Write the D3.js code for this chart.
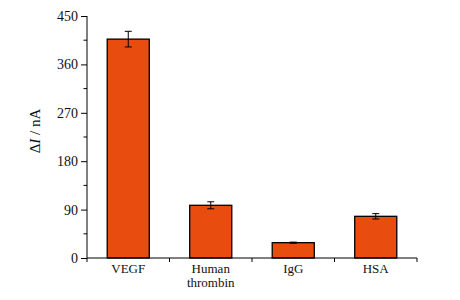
<html>
<head>
<script src="https://cdn.jsdelivr.net/npm/d3@7"></script>
<style>
  body { margin: 0; background: #fff; }
</style>
</head>
<body>
<svg id="chart" width="460" height="300"></svg>
<script>
  // data
  let categories = ["VEGF", "Human\nthrombin", "IgG", "HSA"]
  let values = [407, 98, 28.5, 77.5]
  let errors = [14.5, 6.5, 1, 5]
  let yTicks = [0, 90, 180, 270, 360, 450]

  let serif = "'Liberation Serif', 'Times New Roman', 'DejaVu Serif', serif"
  let svg = d3.select("#chart")
  let mLeft = 87, mTop = 16, mRight = 417, mBottom = 258

  let x = d3.scaleBand()
    .domain(categories)
    .range([mLeft, mRight])
    .paddingInner(0.49)
    .paddingOuter(0.245)

  let y = d3.scaleLinear()
    .domain([0, 450])
    .range([mBottom, mTop])

  let rows = categories.map((c, i) => ({ name: c, v: values[i], e: errors[i] }))

  // bars
  svg.append("g").selectAll("rect")
    .data(rows)
    .enter()
    .append("rect")
    .attr("x", d => x(d.name))
    .attr("y", d => y(d.v))
    .attr("width", x.bandwidth())
    .attr("height", d => y(0) - y(d.v))
    .style("fill", "#e84c0e")
    .style("stroke", "#000")
    .style("stroke-width", 1.3)

  // error bars
  let eb = svg.append("g").selectAll("g")
    .data(rows)
    .enter()
    .append("g")
    .style("stroke", "#000")
    .style("stroke-width", 1)
  let cx = d => x(d.name) + x.bandwidth() / 2
  eb.append("line")
    .attr("x1", cx).attr("x2", cx)
    .attr("y1", d => y(d.v + d.e)).attr("y2", d => y(d.v - d.e))
  eb.append("line")
    .attr("x1", d => cx(d) - 3.5).attr("x2", d => cx(d) + 3.5)
    .attr("y1", d => y(d.v + d.e)).attr("y2", d => y(d.v + d.e))
  eb.append("line")
    .attr("x1", d => cx(d) - 3.5).attr("x2", d => cx(d) + 3.5)
    .attr("y1", d => y(d.v - d.e)).attr("y2", d => y(d.v - d.e))

  // y axis with minor ticks
  let yAxis = d3.axisLeft(y).tickValues(yTicks).tickSize(6).tickPadding(3)
  let gy = svg.append("g")
    .attr("transform", `translate(${mLeft},0)`)
    .call(yAxis)
    .attr("font-family", serif)
  gy.select(".domain").attr("d", `M0,${y(0)}V${y(450)}`)
  gy.append("g").selectAll("line")
    .data(d3.range(45, 450, 90))
    .enter()
    .append("line")
    .attr("x1", -3.5).attr("x2", 0)
    .attr("y1", d => y(d)).attr("y2", d => y(d))
    .style("stroke", "#000")

  // x axis: ticks at category boundaries
  let gx = svg.append("g").attr("transform", `translate(0,${mBottom})`)
  gx.append("line")
    .attr("x1", mLeft).attr("x2", mRight)
    .style("stroke", "#000")
  let step = x.step()
  gx.selectAll(".xt")
    .data(d3.range(0, categories.length + 1))
    .enter()
    .append("line")
    .attr("x1", i => mLeft + i * step).attr("x2", i => mLeft + i * step)
    .attr("y1", 0).attr("y2", 4)
    .style("stroke", "#000")
  gx.selectAll(".xl")
    .data(categories)
    .enter()
    .append("text")
    .attr("x", d => x(d) + x.bandwidth() / 2)
    .attr("y", 15)
    .attr("text-anchor", "middle")
    .style("font-family", serif)
    .style("font-size", "13px")
    .style("fill", "#111")
    .selectAll("tspan")
    .data(d => d.split("\n"))
    .enter()
    .append("tspan")
    .attr("x", function () { return d3.select(this.parentNode).attr("x") })
    .attr("dy", (d, i) => i ? 14 : 0)
    .text(d => d)

  gy.selectAll("text")
    .style("font-family", serif)
    .style("font-size", "14px")
    .style("fill", "#111")
  gy.selectAll("path, line").style("stroke", "#000")

  // y label
  let label = svg.append("text")
    .attr("transform", `translate(40,${(mTop + mBottom) / 2 - 6}) rotate(-90)`)
    .attr("text-anchor", "middle")
    .style("font-family", serif)
    .style("font-size", "15px")
    .style("fill", "#111")
  label.append("tspan").text("Δ")
  label.append("tspan").style("font-style", "italic").text("I")
  label.append("tspan").text(" / nA")
</script>
</body>
</html>
